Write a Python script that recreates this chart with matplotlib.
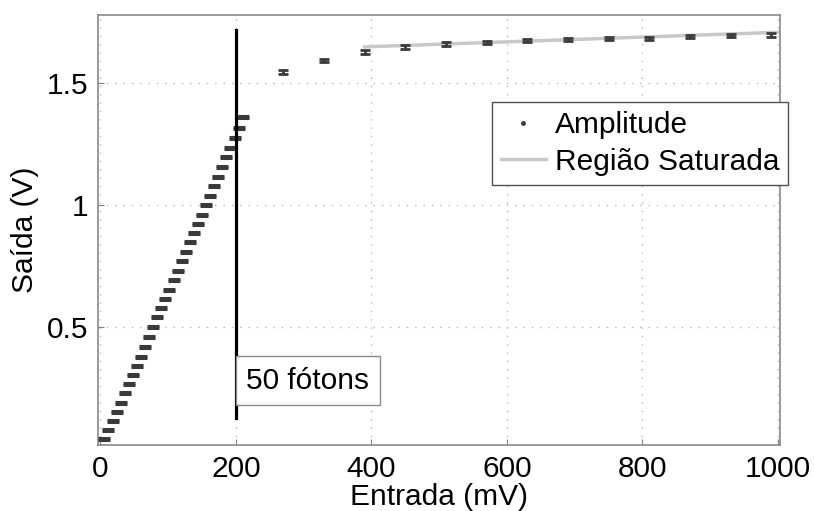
import matplotlib
matplotlib.use("Agg")
import matplotlib.pyplot as plt
from matplotlib.lines import Line2D

plt.rcParams['font.family'] = ['Liberation Sans', 'DejaVu Sans']

# amplitude in the linear region (mV -> V)
x_lin = [6, 12, 18, 24, 30, 36, 42, 48, 54, 60, 66, 72, 78, 84, 90, 96, 102, 108,
         114, 120, 126, 132, 138, 144, 150, 156, 162, 168, 174, 180, 186, 192,
         198, 204, 210]
y_lin = [0.037, 0.076, 0.113, 0.151, 0.188, 0.226, 0.263, 0.302, 0.340, 0.377,
         0.418, 0.459, 0.500, 0.539, 0.577, 0.615, 0.651, 0.691, 0.730, 0.770,
         0.808, 0.847, 0.884, 0.922, 0.961, 1.000, 1.039, 1.079, 1.117, 1.157,
         1.196, 1.233, 1.276, 1.318, 1.363]
err_lin = [0.004] * len(x_lin)

# amplitude in the saturated region
x_sat = [270, 330, 390, 450, 510, 570, 630, 690, 750, 810, 870, 930, 990]
y_sat = [1.546, 1.594, 1.628, 1.649, 1.662, 1.669, 1.676, 1.679, 1.683, 1.686,
         1.692, 1.695, 1.699]
err_sat = [0.008, 0.008, 0.008, 0.007, 0.007, 0.006, 0.006, 0.006, 0.006, 0.006,
           0.006, 0.006, 0.007]

# saturated region fit
x_fit = [390, 1000]
y_fit = [1.650, 1.710]

# 50 photons marker
x_50 = 200
y_50 = [0.125, 1.72]

DARK = '#3a3a3a'
FS = 21.5

fig = plt.figure(figsize=(8.14, 5.11), dpi=100)
ax = fig.add_axes([98.3 / 814, 1 - 445 / 511, (780 - 98.3) / 814, (445 - 15) / 511])

ax.errorbar(x_lin, y_lin, yerr=err_lin, fmt='.', color=DARK, ms=2, elinewidth=1,
            capsize=4.5, capthick=2.2, zorder=3)
ax.errorbar(x_sat, y_sat, yerr=err_sat, fmt='.', color=DARK, ms=2, elinewidth=1,
            capsize=3.8, capthick=2, zorder=3)
ax.plot(x_fit, y_fit, color='#c8c8c8', lw=2.5, zorder=2)
ax.plot([x_50, x_50], y_50, color='black', lw=2.3, zorder=4)

pad = 0.35
ax.annotate('50 fótons', xy=(x_50, 0.279), xytext=(pad * FS, 0),
            textcoords='offset points', fontsize=FS, va='center', ha='left',
            bbox=dict(boxstyle='square,pad=%g' % pad, fc='white', ec='#8a8a8a', lw=1),
            zorder=5)

ax.set_xlim(-3, 1003)
ax.set_ylim(0.014, 1.781)
ax.set_xticks([0, 200, 400, 600, 800, 1000])
ax.set_yticks([0.5, 1, 1.5])
ax.set_yticklabels(['0.5', '1', '1.5'])
ax.tick_params(direction='in', labelsize=FS, length=4, color='#808080', pad=7)
ax.grid(True, linestyle=(0, (1, 5)), color='#b8b8b8', lw=1)
for s in ax.spines.values():
    s.set_color('#8a8a8a')
    s.set_linewidth(1.2)

ax.set_xlabel('Entrada (mV)', fontsize=FS, labelpad=0)
ax.set_ylabel('Saída (V)', fontsize=FS, labelpad=6)

handles = [Line2D([], [], marker='.', ls='none', color=DARK, ms=5),
           Line2D([], [], color='#c8c8c8', lw=2.5)]
leg = ax.legend(handles, ['Amplitude', 'Região Saturada'], fontsize=21.5,
                loc='upper left', bbox_to_anchor=(492 / 814, 1 - 102 / 511),
                bbox_transform=fig.transFigure, borderaxespad=0, fancybox=False,
                handlelength=1.5, handletextpad=0.3, labelspacing=0.3,
                borderpad=0.3, framealpha=1)
leg.get_frame().set_edgecolor('#505050')
leg.get_frame().set_linewidth(1)

plt.savefig('out.png', dpi=100)
